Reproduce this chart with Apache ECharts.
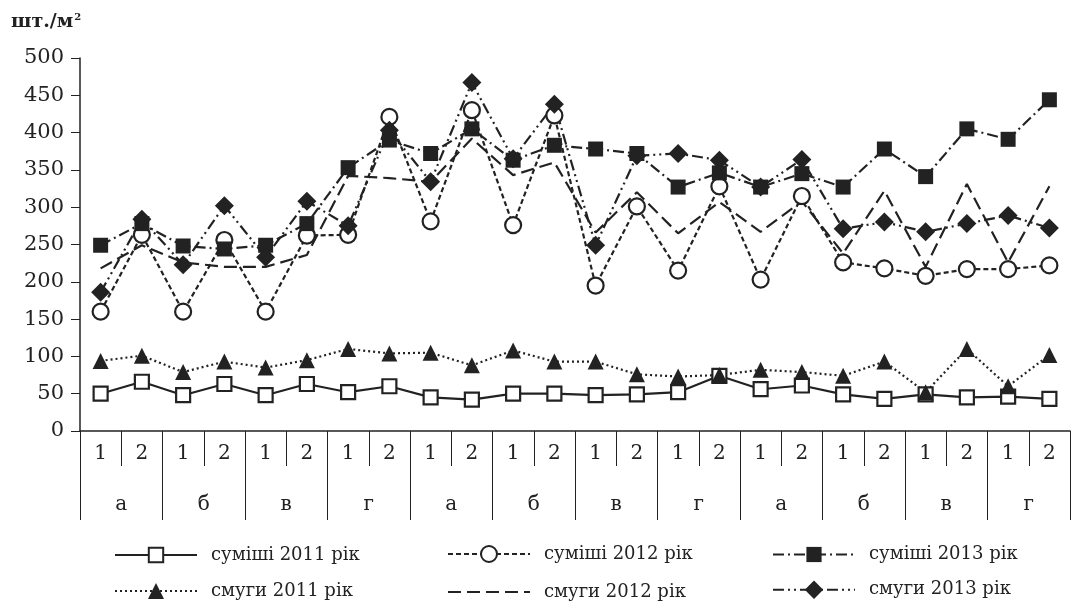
<!DOCTYPE html>
<html>
<head>
<meta charset="utf-8">
<script src="https://cdn.jsdelivr.net/npm/echarts@6/dist/echarts.min.js"></script>
<style>
  html, body { margin: 0; padding: 0; background: #fff; }
  #chart { width: 1076px; height: 606px; }
</style>
</head>
<body>
<div id="chart"></div>
<script>
// Terms (1, 2) inside each variant group, and the variant groups themselves
const subLabels = ['1','2','1','2','1','2','1','2','1','2','1','2','1','2','1','2','1','2','1','2','1','2','1','2'];
const groupLabels = ['а','б','в','г','а','б','в','г','а','б','в','г'];

// Density, шт./м²
const mix2011   = [50, 66, 48, 63, 48, 63, 52, 60, 45, 42, 50, 50, 48, 49, 52, 74, 56, 61, 49, 43, 49, 45, 46, 43];
const mix2012   = [160, 263, 160, 256, 160, 262, 263, 421, 281, 430, 276, 423, 195, 301, 215, 328, 203, 315, 226, 218, 208, 217, 217, 222];
const mix2013   = [249, 278, 248, 244, 249, 278, 353, 390, 372, 405, 363, 383, 378, 372, 327, 346, 327, 345, 327, 378, 341, 405, 391, 444];
const strip2011 = [94, 101, 79, 93, 85, 95, 110, 104, 105, 88, 108, 93, 93, 76, 73, 75, 82, 79, 74, 93, 52, 110, 60, 102];
const strip2012 = [218, 249, 226, 220, 220, 236, 342, 339, 334, 392, 343, 360, 266, 320, 265, 307, 267, 308, 238, 322, 220, 331, 226, 328];
const strip2013 = [186, 284, 223, 302, 233, 308, 275, 403, 334, 467, 365, 438, 249, 369, 372, 363, 327, 364, 271, 280, 267, 278, 289, 272];

const INK = '#222';
const FONT = 'DejaVu Serif';

function lineSeries(name, data, dash, symbol, size, hollow) {
  return {
    name: name,
    type: 'line',
    data: data,
    symbol: symbol,
    symbolSize: size,
    showAllSymbol: true,
    lineStyle: { color: INK, width: 2.2, type: dash },
    itemStyle: hollow
      ? { color: '#fff', borderColor: INK, borderWidth: 2.2 }
      : { color: INK, borderColor: INK, borderWidth: 0 },
    emphasis: { disabled: true }
  };
}

const series = [
  lineSeries('суміші 2011 рік', mix2011, 'solid', 'rect', 14, true),
  lineSeries('суміші 2012 рік', mix2012, [5, 3], 'circle', 16, true),
  lineSeries('суміші 2013 рік', mix2013, [11, 4, 2, 4], 'rect', 15, false),
  lineSeries('смуги 2011 рік', strip2011, [2, 3], 'triangle', 16, false),
  lineSeries('смуги 2012 рік', strip2012, [13, 6], 'none', 0, false),
  lineSeries('смуги 2013 рік', strip2013, [11, 4, 2, 4, 2, 4], 'diamond', 19, false)
];

// one legend block per entry, laid out in a 3 x 2 table
const legendSlots = [
  { left: 114, top: 546, h: 18 }, { left: 447, top: 546, h: 20 }, { left: 772, top: 546, h: 19 },
  { left: 114, top: 583, h: 20 }, { left: 447, top: 583, h: 18 }, { left: 772, top: 583, h: 23 }
];
const legends = series.map(function (s, i) {
  const slot = legendSlots[i];
  return {
    data: [s.name],
    left: slot.left,
    top: slot.top - (slot.h - 18) / 2,
    padding: 0,
    itemWidth: 82,
    itemHeight: slot.h,
    selectedMode: false,
    itemStyle: s.symbol === 'none' ? { opacity: 0 } : {},
    textStyle: { fontFamily: FONT, fontSize: 18, color: INK, padding: [0, 0, 0, 9] }
  };
});

const chart = echarts.init(document.getElementById('chart'), null, { renderer: 'canvas' });
chart.setOption({
  animation: false,
  backgroundColor: '#fff',
  title: {
    text: 'шт./м{sup|2}',
    left: 6,
    top: 7,
    textStyle: {
      fontFamily: FONT, fontSize: 19, fontWeight: 'bold', color: INK,
      rich: { sup: { fontFamily: FONT, fontSize: 10, color: INK, verticalAlign: 'top', padding: [0, 0, 10, 1] } }
    }
  },
  legend: legends,
  grid: { left: 80, right: 6, top: 58, bottom: 175, containLabel: false },
  xAxis: [
    {
      type: 'category',
      data: subLabels,
      boundaryGap: true,
      position: 'bottom',
      axisLine: { show: true, lineStyle: { color: INK, width: 1.5 } },
      axisTick: { show: true, interval: 0, length: 35, lineStyle: { color: INK, width: 1 } },
      axisLabel: { interval: 0, margin: 13, fontFamily: FONT, fontSize: 20, color: INK },
      splitLine: { show: false }
    },
    {
      type: 'category',
      data: groupLabels,
      boundaryGap: true,
      position: 'bottom',
      offset: 0,
      axisLine: { show: false },
      axisTick: { show: true, interval: 0, length: 89, lineStyle: { color: INK, width: 1 } },
      axisLabel: { interval: 0, margin: 64, fontFamily: FONT, fontSize: 20, color: INK },
      splitLine: { show: false }
    }
  ],
  yAxis: [
    {
      type: 'value',
      min: 0,
      max: 500,
      interval: 50,
      axisLine: { show: false },
      axisTick: { show: true, inside: false, length: 9, lineStyle: { color: INK, width: 1 } },
      axisLabel: { margin: 16, fontFamily: FONT, fontSize: 21, color: INK },
      splitLine: { show: false }
    },
    {
      // plain frame line on the left that runs a little above the top tick
      type: 'value',
      position: 'left',
      min: 0,
      max: 518,
      axisLine: { show: true, lineStyle: { color: INK, width: 1.5 } },
      axisTick: { show: false },
      axisLabel: { show: false },
      splitLine: { show: false }
    }
  ],
  series: series
});
</script>
</body>
</html>
